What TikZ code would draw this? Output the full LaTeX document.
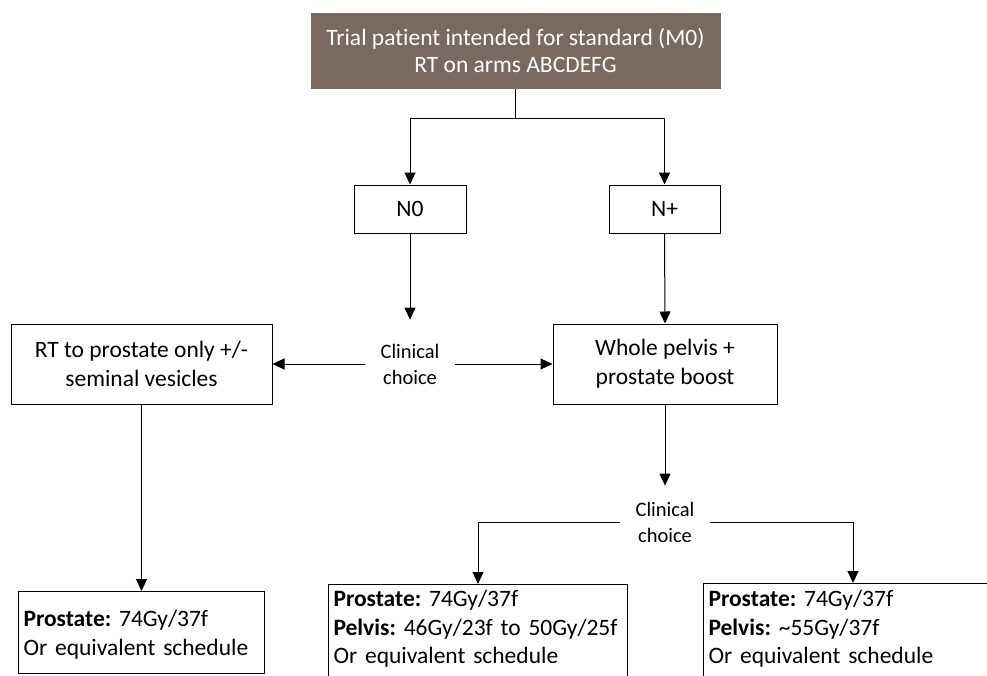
\documentclass[tikz,border=0pt]{standalone}
\usepackage{fontspec}
\setmainfont{Carlito}[Ligatures=NoCommon]
\usetikzlibrary{arrows.meta}
\definecolor{topfill}{RGB}{120,106,97}
\newcommand\uptop[1]{\rule{0pt}{#1}}
\newcommand\downbot[1]{\rule[-#1]{0pt}{#1}}
\frenchspacing
\begin{document}
\frenchspacing
\begin{tikzpicture}[x=1pt,y=-1pt,
  box/.style={draw=black, line width=1pt, align=center, inner sep=0pt,
    font=\fontsize{23.5}{29}\selectfont\frenchspacing},
  conn/.style={draw=black, line width=1pt, -{Triangle[length=12pt,width=11pt]}},
  plain/.style={draw=black, line width=1pt},
  choice/.style={align=center, inner xsep=15pt, font=\fontsize{20.5}{26}\selectfont},
  dose/.style={draw=black, line width=1pt, anchor=north west, align=left,
    inner xsep=5pt, inner ysep=0pt, text width=289pt,
    font=\fontsize{23.5}{28.5}\selectfont\frenchspacing}
]
\clip (0,0) rectangle (987,675);
\fill[white] (0,0) rectangle (987,675);

\node[box, fill=topfill, draw=topfill, text=white, minimum width=409pt, minimum height=75pt,
  font=\fontsize{23.5}{27}\selectfont]
  (top) at (515.5,50.5) {Trial patient intended for standard (M0)\\RT on arms ABCDEFG};
\coordinate (br) at (515.5,118);
\node[box, minimum width=112pt, minimum height=48pt] (n0) at (410,209) {N0};
\node[box, minimum width=111pt, minimum height=48pt] (np) at (664.5,209) {N+};
\node[box, minimum width=261pt, minimum height=80pt] (rt) at (141.5,364)
  {RT to prostate only +/-\\seminal vesicles};
\node[box, minimum width=224pt, minimum height=80pt] (wp) at (665,364)
  {Whole pelvis +\\prostate boost};
\node[choice, inner ysep=24pt] (cc1) at (410,364) {Clinical\\choice};
\node[choice, inner ysep=16pt] (cc2) at (665,522) {Clinical\\choice};

\node[dose, text width=236pt] (lb) at (18,591)
  {\uptop{35pt}\textbf{Prostate:} 74Gy/37f\\Or equivalent schedule\downbot{18pt}};
\node[dose] (mid) at (328,584)
  {\uptop{22pt}\textbf{Prostate:} 74Gy/37f\\\textbf{Pelvis:} 46Gy/23f to 50Gy/25f\\Or equivalent schedule\downbot{25pt}};
\node[dose] (rb) at (703,583)
  {\uptop{23pt}\textbf{Prostate:} 74Gy/37f\\\textbf{Pelvis:} \textasciitilde55Gy/37f\\Or equivalent schedule\downbot{25pt}};

\draw[plain] (top.south) -- (br);
\draw[conn] (br) -| (n0.north);
\draw[conn] (br) -| (np.north);
\draw[conn] (n0.south) -- (cc1.north);
\draw[conn] (np.south) -- (wp.north);
\draw[conn] (cc1.west) -- (rt.east);
\draw[conn] (cc1.east) -- (wp.west);
\draw[conn] (wp.south) -- (cc2.north);
\draw[conn] (rt.south) -- (rt.south |- lb.north);
\draw[conn] (cc2.west) -| (mid.north);
\draw[conn] (cc2.east) -| (rb.north);
\end{tikzpicture}
\end{document}
